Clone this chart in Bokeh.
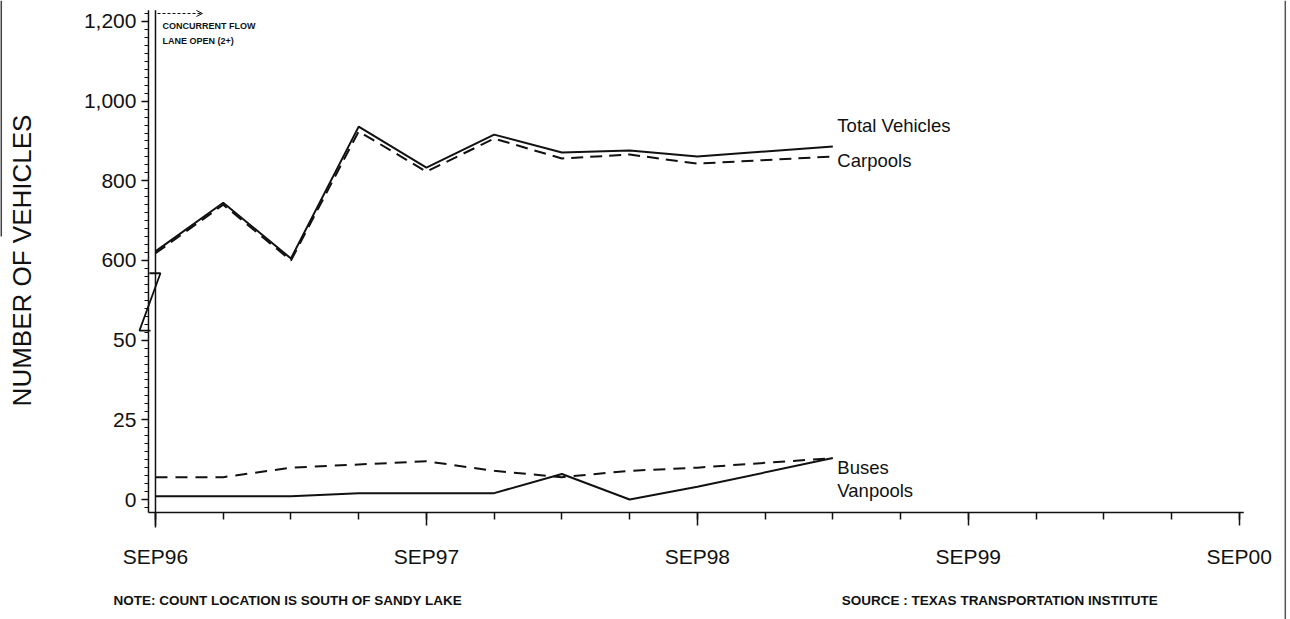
import math
from bokeh.plotting import figure
from bokeh.models import Range1d, FixedTicker, Label, Arrow, OpenHead
from bokeh.embed import file_html
from bokeh.resources import INLINE

# ---------------- data ----------------
months = [0, 3, 6, 9, 12, 15, 18, 21, 24, 30]          # months after Sep 1996
total_vehicles = [623, 745, 605, 936, 833, 916, 871, 876, 861, 886]
carpools = [618, 740, 600, 924, 823, 906, 856, 866, 843, 861]
buses = [7, 7, 10, 11, 12, 9, 7, 9, 10, 13]
vanpools = [1, 1, 1, 2, 2, 2, 8, 0, 4, 13]

x_tick_months = [0, 12, 24, 36, 48]
x_tick_labels = ["SEP96", "SEP97", "SEP98", "SEP99", "SEP00"]
y_tick_values = [0, 25, 50, 600, 800, 1000, 1200]
y_tick_labels = ["0", "25", "50", "600", "800", "1,000", "1,200"]


# broken axis: 0-50 in steps of 25, then 600-1200 in steps of 200
def to_t(v):
    if v <= 100:
        return v / 25.0
    return 3.0 + (v - 600) / 200.0


FONT = "Liberation Sans"
INK = "#111111"

X_AXIS_AT = -0.163     # where the x axis line sits (in broken-axis units)
Y_AXIS_AT = -0.31      # where the y axis line sits (in months)
Y_TOP = 6.14
X_END = 48.2

p = figure(width=1290, height=619, output_backend="svg", toolbar_location=None,
           x_range=Range1d(-6.864, 50.27), y_range=Range1d(-1.506, 6.263),
           min_border_left=0, min_border_right=0, min_border_top=0, min_border_bottom=0)
p.outline_line_color = None
p.xgrid.grid_line_color = None
p.ygrid.grid_line_color = None
p.background_fill_color = "white"
p.border_fill_color = "white"

# ---------------- axes ----------------
yt = [to_t(v) for v in y_tick_values]
p.yaxis.ticker = FixedTicker(ticks=yt, minor_ticks=[i / 10 for i in range(-1, 62)])
p.yaxis.major_label_overrides = {t: s for t, s in zip(yt, y_tick_labels)}
p.yaxis.fixed_location = Y_AXIS_AT
p.yaxis.axis_line_color = None
p.yaxis.major_tick_out = 7
p.yaxis.major_tick_in = 0
p.yaxis.minor_tick_out = 4
p.yaxis.minor_tick_in = 0
p.yaxis.major_tick_line_width = 1.5
p.yaxis.minor_tick_line_width = 1.2
p.yaxis.major_tick_line_color = INK
p.yaxis.minor_tick_line_color = INK
p.yaxis.major_label_text_font = FONT
p.yaxis.major_label_text_font_size = "21px"
p.yaxis.major_label_text_color = INK
p.yaxis.major_label_standoff = 5

p.xaxis.ticker = FixedTicker(ticks=x_tick_months, minor_ticks=list(range(0, 49, 3)))
p.xaxis.major_label_overrides = {m: s for m, s in zip(x_tick_months, x_tick_labels)}
p.xaxis.fixed_location = X_AXIS_AT
p.xaxis.axis_line_color = None
p.xaxis.major_tick_out = 13
p.xaxis.major_tick_in = 0
p.xaxis.minor_tick_out = 7
p.xaxis.minor_tick_in = 0
p.xaxis.major_tick_line_width = 1.5
p.xaxis.minor_tick_line_width = 1.5
p.xaxis.major_tick_line_color = INK
p.xaxis.minor_tick_line_color = INK
p.xaxis.major_label_text_font = FONT
p.xaxis.major_label_text_font_size = "21px"
p.xaxis.major_label_text_color = INK
p.xaxis.major_label_standoff = 20

# axis lines
p.segment(x0=[Y_AXIS_AT, Y_AXIS_AT], y0=[X_AXIS_AT, X_AXIS_AT],
          x1=[X_END, Y_AXIS_AT], y1=[X_AXIS_AT, Y_TOP], line_color=INK, line_width=1.5)

# ---------------- series ----------------
p.line(months, [to_t(v) for v in total_vehicles], line_color=INK, line_width=2)
p.line(months, [to_t(v) for v in carpools], line_color=INK, line_width=2, line_dash="12 7")
p.line(months, [to_t(v) for v in buses], line_color=INK, line_width=2, line_dash="12 8")
p.line(months, [to_t(v) for v in vanpools], line_color=INK, line_width=2)

# series labels
for txt, ty in [("Total Vehicles", 4.69), ("Carpools", 4.25), ("Buses", 0.40), ("Vanpools", 0.11)]:
    p.add_layout(Label(x=30.2, y=ty, text=txt, text_font=FONT, text_font_size="18.5px",
                       text_color=INK, text_baseline="middle", text_align="left"))

# axis break mark
p.line(x=[-0.27, 0.22, -0.71, -0.22], y=[2.84, 2.84, 2.12, 2.12], line_color=INK, line_width=1.8)

# lane opening marker
p.segment(x0=[0], y0=[-0.35], x1=[0], y1=[Y_TOP], line_color=INK, line_width=1.5)
p.add_layout(Arrow(end=OpenHead(size=6, line_width=1, line_color=INK), x_start=0.09, y_start=6.1,
                   x_end=2.08, y_end=6.1, line_dash="3 2", line_width=1, line_color=INK))
p.add_layout(Label(x=0.31, y=5.94, text="CONCURRENT FLOW", text_font=FONT, text_font_size="9px",
                   text_font_style="bold", text_color=INK, text_baseline="middle"))
p.add_layout(Label(x=0.31, y=5.75, text="LANE OPEN (2+)", text_font=FONT, text_font_size="9px",
                   text_font_style="bold", text_color=INK, text_baseline="middle"))

# y axis title
p.add_layout(Label(x=-5.9, y=3.0, text="NUMBER OF VEHICLES", angle=math.pi / 2, text_font=FONT,
                   text_font_size="26px", text_color=INK, text_align="center",
                   text_baseline="middle"))

# footnotes
p.add_layout(Label(x=-1.86, y=-1.27, text="NOTE: COUNT LOCATION IS SOUTH OF SANDY LAKE",
                   text_font=FONT, text_font_size="13.5px", text_font_style="bold",
                   text_color=INK, text_baseline="middle"))
p.add_layout(Label(x=30.4, y=-1.27, text="SOURCE : TEXAS TRANSPORTATION INSTITUTE",
                   text_font=FONT, text_font_size="13.5px", text_font_style="bold",
                   text_color=INK, text_baseline="middle"))

# scan frame edges
p.segment(x0=[50.04], y0=[-1.506], x1=[50.04], y1=[6.263], line_color="#555555", line_width=1.5)
p.segment(x0=[-6.84], y0=[3.3], x1=[-6.84], y1=[6.263], line_color="#444444", line_width=2)

open("out.html", "w").write(file_html(p, INLINE))
